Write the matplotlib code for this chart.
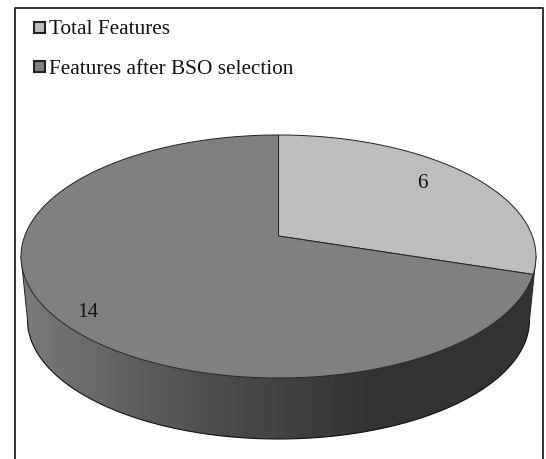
import numpy as np
import matplotlib
matplotlib.use("Agg")
from matplotlib import pyplot as plt
from matplotlib.colors import LinearSegmentedColormap
from matplotlib.patches import Polygon, Rectangle

labels = ["Total Features", "Features after BSO selection"]
values = [6, 14]
colors = ["#bdbdbd", "#808080"]

plt.rcParams["font.family"] = ["Liberation Serif", "DejaVu Serif"]

fig = plt.figure(figsize=(5.46, 4.59), dpi=100)
ax = fig.add_axes([0, 0, 1, 1])
ax.set_xlim(0, 546)
ax.set_ylim(459, 0)
ax.axis("off")

# tilted disc: centre of the circle lands above the centre of the ellipse
CX = 278.5
P = 41 / 243


def top_rim(t):
    # t in radians, clockwise from 12 o'clock
    u, v = np.sin(t), np.cos(t)
    w = 1 + P * v
    return CX + 253.8 * u / w, (236 + (135 * P - 101) * v) / w


def bottom_rim(t):
    x, y = top_rim(t)
    return CX + (x - CX) * 251 / 257.5, 320 + (y - 256.5) * 119 / 121.5


# side wall runs between the widest points of the rim
t_wide = np.arccos(-P)
t_wall = np.linspace(t_wide, 2 * np.pi - t_wide, 300)
xt, yt = top_rim(t_wall)
xb, yb = bottom_rim(t_wall)
wall_xy = np.column_stack([np.r_[xt, xb[::-1]], np.r_[yt, yb[::-1]]])
wall = Polygon(wall_xy, closed=True, fc="none", ec="none")
ax.add_patch(wall)
wall_cmap = LinearSegmentedColormap.from_list(
    "wall", [(0, "#333333"), (0.32, "#333333"), (0.62, "#4c4c4c"), (1, "#7a7a7a")]
)
grad = np.linspace(1, 0, 120).reshape(1, -1)
img = ax.imshow(grad, cmap=wall_cmap, vmin=0, vmax=1, extent=(21, 536, 459, 230),
                aspect="auto", zorder=1)
img.set_clip_path(wall)
ax.set_xlim(0, 546)
ax.set_ylim(459, 0)
ax.plot(xb, yb, color="#111111", lw=0.8, zorder=2)
ax.plot([xt[-1], xb[-1]], [yt[-1], yb[-1]], color="#222222", lw=0.7, zorder=2)
ax.plot([xt[0], xb[0]], [yt[0], yb[0]], color="#222222", lw=0.7, zorder=2)

# top face wedges, clockwise from 12 o'clock
edges = np.cumsum([0] + values) / sum(values) * 2 * np.pi
vx, vy = CX, 236
for i in range(len(values)):
    t = np.linspace(edges[i], edges[i + 1], 300)
    x, y = top_rim(t)
    xy = np.column_stack([np.r_[vx, x], np.r_[vy, y]])
    ax.add_patch(Polygon(xy, closed=True, fc=colors[i], ec="#222222", lw=0.7, zorder=3))

ax.text(422, 183, str(values[0]), fontsize=15.3, ha="center", va="center", color="#111111", zorder=4)
ax.text(88, 312.5, str(values[1]), fontsize=15.3, ha="center", va="center", color="#111111", zorder=4)

# legend
legend_y = [27, 66.5]
for i in range(len(labels)):
    ax.add_patch(Rectangle((34, legend_y[i] - 5.5), 10.5, 11, fc=colors[i], ec="#222222", lw=1.5, zorder=4))
    ax.text(49, legend_y[i] + 2.5, labels[i], fontsize=15.3, ha="left", va="center", color="#111111", zorder=4)

# frame is open at the bottom
ax.plot([14.5, 14.5, 543, 543], [459, 7.5, 7.5, 459], color="#333333", lw=1.4, zorder=5)

fig.savefig("out.png", dpi=100)
